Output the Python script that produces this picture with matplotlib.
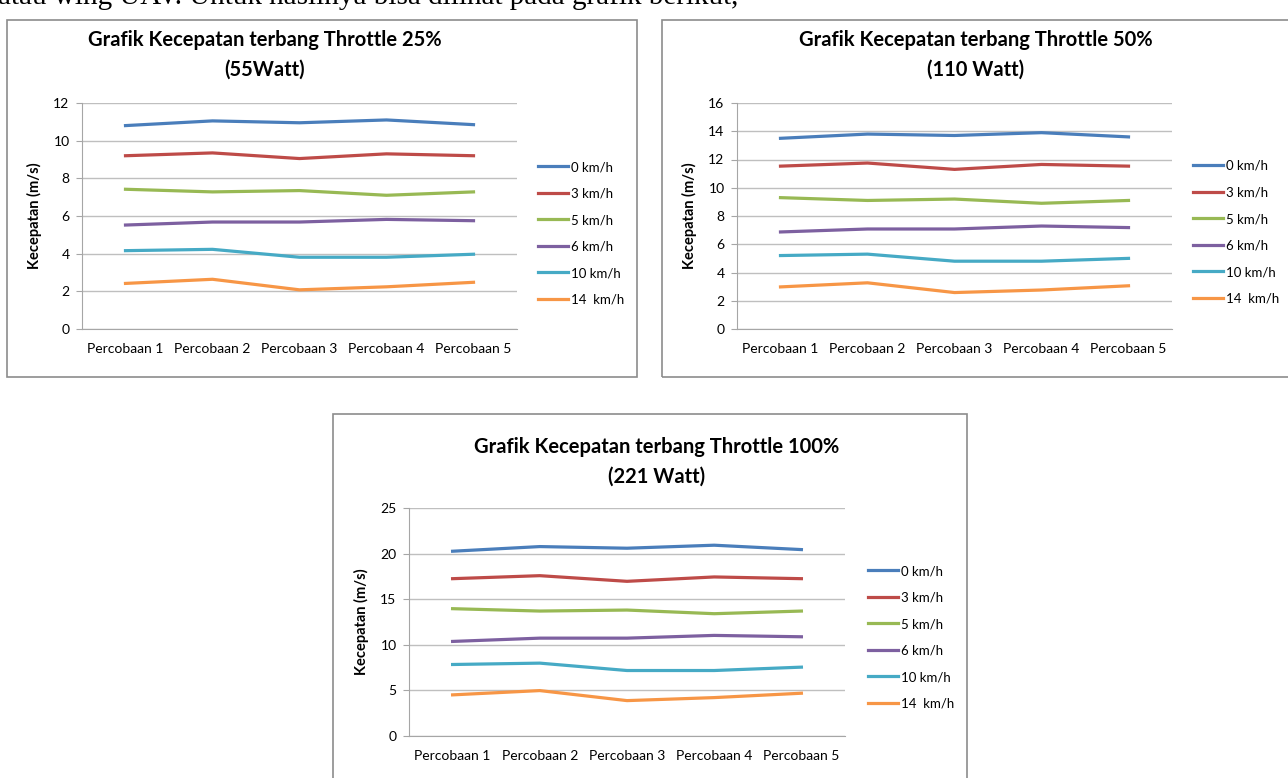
import matplotlib
matplotlib.use("Agg")
import matplotlib.pyplot as plt
from matplotlib.patches import Rectangle

W, H = 1288, 778

percobaan = ["Percobaan 1", "Percobaan 2", "Percobaan 3", "Percobaan 4", "Percobaan 5"]
labels = ["0 km/h", "3 km/h", "5 km/h", "6 km/h", "10 km/h", "14  km/h"]
colors = ["#4a7ebb", "#be4b48", "#98b954", "#7d60a0", "#46aac5", "#f79646"]

# throttle 25% (55 Watt)
t25_0 = [10.8, 11.05, 10.95, 11.1, 10.85]
t25_3 = [9.2, 9.35, 9.05, 9.3, 9.2]
t25_5 = [7.42, 7.28, 7.35, 7.1, 7.28]
t25_6 = [5.52, 5.68, 5.68, 5.82, 5.75]
t25_10 = [4.16, 4.23, 3.81, 3.81, 3.97]
t25_14 = [2.42, 2.64, 2.08, 2.24, 2.48]

# throttle 50% (110 Watt)
t50_0 = [13.5, 13.8, 13.7, 13.9, 13.6]
t50_3 = [11.53, 11.75, 11.3, 11.65, 11.53]
t50_5 = [9.3, 9.1, 9.2, 8.9, 9.1]
t50_6 = [6.87, 7.08, 7.08, 7.29, 7.18]
t50_10 = [5.2, 5.3, 4.8, 4.8, 5.0]
t50_14 = [2.98, 3.27, 2.58, 2.76, 3.06]

# throttle 100% (221 Watt)
t100_0 = [20.26, 20.77, 20.59, 20.92, 20.44]
t100_3 = [17.25, 17.58, 16.96, 17.44, 17.25]
t100_5 = [13.96, 13.7, 13.81, 13.41, 13.7]
t100_6 = [10.37, 10.73, 10.73, 11.03, 10.88]
t100_10 = [7.84, 7.99, 7.18, 7.18, 7.55]
t100_14 = [4.51, 4.98, 3.88, 4.21, 4.69]

plt.rcParams["font.family"] = ["Lato", "DejaVu Sans"]

fig = plt.figure(figsize=(W / 100, H / 100), dpi=100)


def px_rect(x0, y0, x1, y1):
    return [x0 / W, 1 - y1 / H, (x1 - x0) / W, (y1 - y0) / H]


def chart(box, plot, title, series, ymax, ystep, leg_xy):
    # outer frame
    fig.patches.append(Rectangle((box[0] / W, 1 - box[3] / H),
                                 (box[2] - box[0]) / W, (box[3] - box[1]) / H,
                                 transform=fig.transFigure, fill=False,
                                 edgecolor="#8c8c8c", linewidth=1.2))
    cx = title[2]
    fig.text(cx / W, 1 - title[3] / H, title[0], ha="center", va="center",
             fontsize=14.5, fontweight="bold")
    fig.text(cx / W, 1 - (title[3] + 30) / H, title[1], ha="center", va="center",
             fontsize=14.5, fontweight="bold")

    ax = fig.add_axes(px_rect(*plot))
    x = range(len(percobaan))
    for vals, lab, c in zip(series, labels, colors):
        ax.plot(x, vals, color=c, linewidth=2.3, label=lab)
    ax.set_xlim(-0.5, 4.5)
    ax.set_ylim(0, ymax)
    ax.set_yticks(range(0, ymax + 1, ystep))
    ax.set_xticks(list(x))
    ax.set_xticklabels(percobaan)
    ax.yaxis.grid(True, color="#bfbfbf", linewidth=1)
    ax.set_axisbelow(True)
    for s in ["top", "right"]:
        ax.spines[s].set_visible(False)
    for s in ["left", "bottom"]:
        ax.spines[s].set_color("#a6a6a6")
    ax.tick_params(axis="y", length=4, color="#a6a6a6", labelsize=10, pad=5)
    ax.tick_params(axis="x", length=0, labelsize=10, pad=10)
    ax.set_ylabel("Kecepatan (m/s)", fontsize=10.5, fontweight="bold", labelpad=8)
    ax.legend(loc="upper left", bbox_to_anchor=(leg_xy[0] / W, 1 - leg_xy[1] / H),
              bbox_transform=fig.transFigure, frameon=False, fontsize=9.5,
              handlelength=2.3, handletextpad=0.2, labelspacing=1.1,
              borderaxespad=0, borderpad=0)
    return ax


chart((7, 20, 637, 377), (82, 103, 517, 329),
      ("Grafik Kecepatan terbang Throttle 25%", "(55Watt)", 265, 40),
      [t25_0, t25_3, t25_5, t25_6, t25_10, t25_14], 12, 2, (538, 161))

chart((662, 20, 1300, 377), (737, 103, 1172, 329),
      ("Grafik Kecepatan terbang Throttle 50%", "(110 Watt)", 976, 40),
      [t50_0, t50_3, t50_5, t50_6, t50_10, t50_14], 16, 2, (1193, 160))

chart((333, 414, 967, 790), (409, 508, 845, 736),
      ("Grafik Kecepatan terbang Throttle 100%", "(221 Watt)", 657, 447),
      [t100_0, t100_3, t100_5, t100_6, t100_10, t100_14], 25, 5, (868, 565))

# running text of the page, cut at the top edge
fig.text(-2 / W, 1 - 4 / H, "atau wing UAV. Untuk hasilnya bisa dilihat pada grafik berikut,",
         family="Liberation Serif", fontsize=21, ha="left", va="baseline")

fig.savefig("out.png", dpi=100)
